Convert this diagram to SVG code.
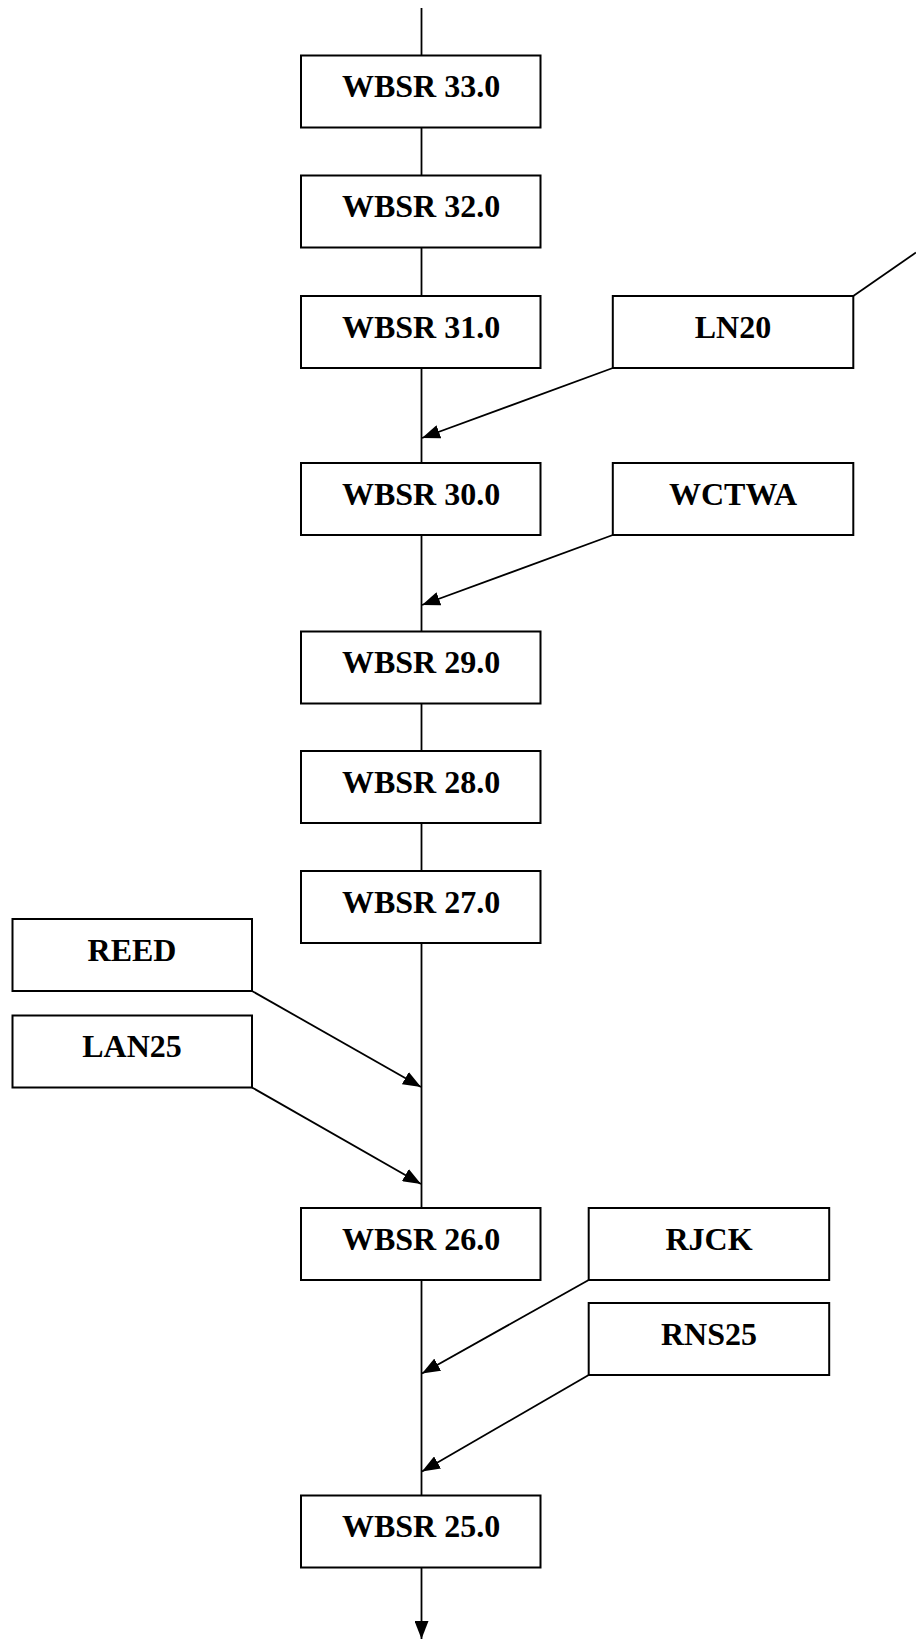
<svg xmlns="http://www.w3.org/2000/svg" width="916" height="1640" viewBox="0 0 916 1640">
<style>
.box{fill:#fff;stroke:#000;stroke-width:2}
.lbl{font-family:"Liberation Serif","Times New Roman",serif;font-weight:bold;font-size:32px;text-anchor:middle;fill:#000}
.ln{stroke:#000;stroke-width:1.8;fill:none}
.arr{stroke:#000;stroke-width:1.8;fill:none;marker-end:url(#ah)}
</style>
<defs>
<marker id="ah" markerUnits="userSpaceOnUse" markerWidth="18" markerHeight="14" refX="18" refY="7" orient="auto">
<path d="M0,0 L18,7 L0,14 z" fill="#000"/>
</marker>
</defs>
<g id="connectors">
<line class="ln" x1="421.5" y1="8" x2="421.5" y2="55.5"/>
<line class="ln" x1="421.5" y1="127.5" x2="421.5" y2="175.5"/>
<line class="ln" x1="421.5" y1="247.5" x2="421.5" y2="296"/>
<line class="ln" x1="421.5" y1="368" x2="421.5" y2="463"/>
<line class="ln" x1="421.5" y1="535" x2="421.5" y2="631.5"/>
<line class="ln" x1="421.5" y1="703.5" x2="421.5" y2="751"/>
<line class="ln" x1="421.5" y1="823" x2="421.5" y2="871"/>
<line class="ln" x1="421.5" y1="943" x2="421.5" y2="1208"/>
<line class="ln" x1="421.5" y1="1280" x2="421.5" y2="1495.5"/>
<line class="arr" x1="421.5" y1="1567.5" x2="421.5" y2="1639"/>
<line class="ln" x1="853.3" y1="296" x2="916" y2="252.5"/>
<line class="arr" x1="612.8" y1="368" x2="422" y2="438"/>
<line class="arr" x1="612.8" y1="535" x2="422" y2="605"/>
<line class="arr" x1="252" y1="991" x2="421" y2="1087"/>
<line class="arr" x1="252" y1="1087.5" x2="421" y2="1184"/>
<line class="arr" x1="588.7" y1="1280" x2="422" y2="1373.5"/>
<line class="arr" x1="588.7" y1="1375" x2="422" y2="1471.5"/>
</g>
<g id="wbsr33"><rect class="box" x="301" y="55.5" width="239.5" height="72"/><text class="lbl" x="421" y="97">WBSR 33.0</text></g>
<g id="wbsr32"><rect class="box" x="301" y="175.5" width="239.5" height="72"/><text class="lbl" x="421" y="217">WBSR 32.0</text></g>
<g id="wbsr31"><rect class="box" x="301" y="296" width="239.5" height="72"/><text class="lbl" x="421" y="337.5">WBSR 31.0</text></g>
<g id="ln20"><rect class="box" x="612.8" y="296" width="240.5" height="72"/><text class="lbl" x="733" y="337.5">LN20</text></g>
<g id="wbsr30"><rect class="box" x="301" y="463" width="239.5" height="72"/><text class="lbl" x="421" y="504.5">WBSR 30.0</text></g>
<g id="wctwa"><rect class="box" x="612.8" y="463" width="240.5" height="72"/><text class="lbl" x="733" y="504.5">WCTWA</text></g>
<g id="wbsr29"><rect class="box" x="301" y="631.5" width="239.5" height="72"/><text class="lbl" x="421" y="673">WBSR 29.0</text></g>
<g id="wbsr28"><rect class="box" x="301" y="751" width="239.5" height="72"/><text class="lbl" x="421" y="792.5">WBSR 28.0</text></g>
<g id="wbsr27"><rect class="box" x="301" y="871" width="239.5" height="72"/><text class="lbl" x="421" y="912.5">WBSR 27.0</text></g>
<g id="reed"><rect class="box" x="12.5" y="919" width="239.5" height="72"/><text class="lbl" x="132" y="960.5">REED</text></g>
<g id="lan25"><rect class="box" x="12.5" y="1015.5" width="239.5" height="72"/><text class="lbl" x="132" y="1057">LAN25</text></g>
<g id="wbsr26"><rect class="box" x="301" y="1208" width="239.5" height="72"/><text class="lbl" x="421" y="1249.5">WBSR 26.0</text></g>
<g id="rjck"><rect class="box" x="588.7" y="1208" width="240.5" height="72"/><text class="lbl" x="709" y="1249.5">RJCK</text></g>
<g id="rns25"><rect class="box" x="588.7" y="1303" width="240.5" height="72"/><text class="lbl" x="709" y="1344.5">RNS25</text></g>
<g id="wbsr25"><rect class="box" x="301" y="1495.5" width="239.5" height="72"/><text class="lbl" x="421" y="1537">WBSR 25.0</text></g>
</svg>
